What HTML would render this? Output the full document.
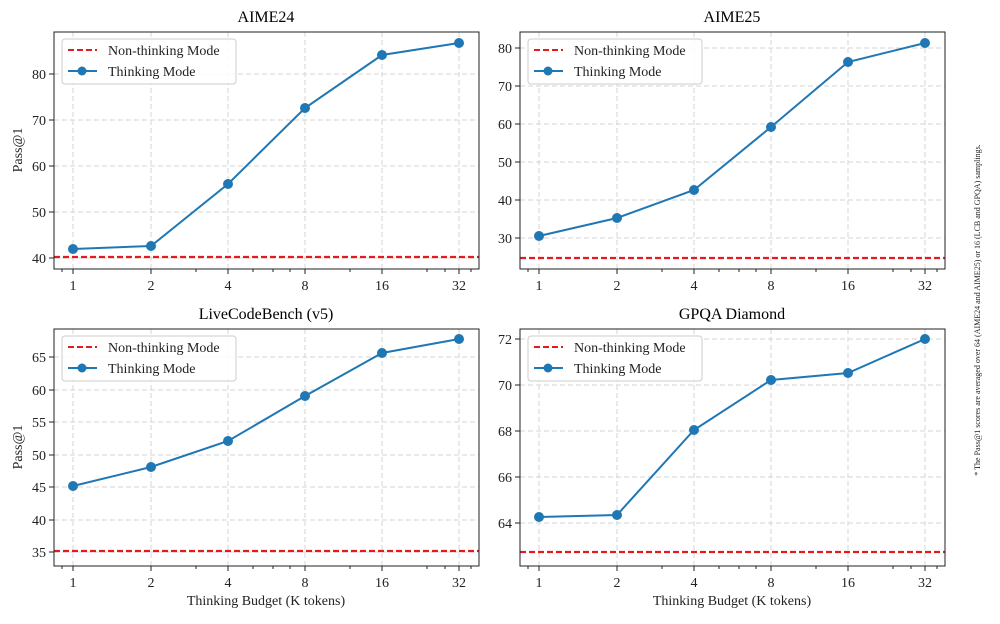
<!DOCTYPE html>
<html><head><meta charset="utf-8"><style>
body{margin:0;background:#fff;}
svg{font-family:"Liberation Serif","DejaVu Serif",serif;}
.g{stroke:#d6d6d6;stroke-width:1;stroke-dasharray:5,3;fill:none}
.t{font-size:14px;fill:#222}
</style></head><body>
<svg width="1000" height="619" viewBox="0 0 1000 619" xmlns="http://www.w3.org/2000/svg">
<defs>
<g id="xgrid">
<line class="g" x1="19" y1="0" x2="19" y2="237"/><line class="g" x1="97" y1="0" x2="97" y2="237"/><line class="g" x1="174" y1="0" x2="174" y2="237"/><line class="g" x1="251" y1="0" x2="251" y2="237"/><line class="g" x1="328" y1="0" x2="328" y2="237"/><line class="g" x1="405" y1="0" x2="405" y2="237"/>
<g stroke="#222" stroke-width="1">
<line x1="19" y1="237" x2="19" y2="242"/><line x1="97" y1="237" x2="97" y2="242"/><line x1="174" y1="237" x2="174" y2="242"/><line x1="251" y1="237" x2="251" y2="242"/><line x1="328" y1="237" x2="328" y2="242"/><line x1="405" y1="237" x2="405" y2="242"/>
<line x1="8" y1="237" x2="8" y2="240"/><line x1="142" y1="237" x2="142" y2="240"/><line x1="199" y1="237" x2="199" y2="240"/><line x1="219" y1="237" x2="219" y2="240"/><line x1="236" y1="237" x2="236" y2="240"/><line x1="296" y1="237" x2="296" y2="240"/><line x1="373" y1="237" x2="373" y2="240"/><line x1="391" y1="237" x2="391" y2="240"/><line x1="417" y1="237" x2="417" y2="240"/>
</g>
<g class="t" text-anchor="middle">
<text x="19" y="258">1</text><text x="97" y="258">2</text><text x="174" y="258">4</text><text x="251" y="258">8</text><text x="328" y="258">16</text><text x="405" y="258">32</text></g>
</g>
<g id="legend">
<rect x="8" y="7" width="174" height="45" rx="3" fill="#fff" fill-opacity="0.85" stroke="#ccc"/>
<line x1="14" y1="18" x2="43" y2="18" stroke="#e41a1c" stroke-width="2" stroke-dasharray="6,3"/>
<line x1="14" y1="39" x2="43" y2="39" stroke="#1f77b4" stroke-width="2"/><circle cx="28" cy="39" r="4.5" fill="#1f77b4"/>
<text class="t" x="54" y="23">Non-thinking Mode</text><text class="t" x="54" y="44">Thinking Mode</text>
</g>
</defs>

<g transform="translate(54,32)">
<text x="212" y="-10" text-anchor="middle" font-size="16">AIME24</text>
<use href="#xgrid"/>
<g class="g"><line x1="0" y1="42" x2="425" y2="42"/><line x1="0" y1="88" x2="425" y2="88"/><line x1="0" y1="134" x2="425" y2="134"/><line x1="0" y1="180" x2="425" y2="180"/><line x1="0" y1="226" x2="425" y2="226"/></g>
<g stroke="#222"><line x1="-5" y1="42" x2="0" y2="42"/><line x1="-5" y1="88" x2="0" y2="88"/><line x1="-5" y1="134" x2="0" y2="134"/><line x1="-5" y1="180" x2="0" y2="180"/><line x1="-5" y1="226" x2="0" y2="226"/></g>
<g class="t" text-anchor="end"><text x="-8" y="47">80</text><text x="-8" y="93">70</text><text x="-8" y="139">60</text><text x="-8" y="185">50</text><text x="-8" y="231">40</text></g>
<line x1="0" y1="225" x2="425" y2="225" stroke="#e41a1c" stroke-width="2.2" stroke-dasharray="6,3"/>
<polyline points="19,217 97,214 174,152 251,76 328,23 405,11" fill="none" stroke="#1f77b4" stroke-width="2"/>
<g fill="#1f77b4"><circle cx="19" cy="217" r="5"/><circle cx="97" cy="214" r="5"/><circle cx="174" cy="152" r="5"/><circle cx="251" cy="76" r="5"/><circle cx="328" cy="23" r="5"/><circle cx="405" cy="11" r="5"/></g>
<use href="#legend"/>
<rect x="0" y="0" width="425" height="237" fill="none" stroke="#222"/>
<text x="-32" y="118" transform="rotate(-90 -32 118)" text-anchor="middle" class="t">Pass@1</text>
</g>

<g transform="translate(520,32)">
<text x="212" y="-10" text-anchor="middle" font-size="16">AIME25</text>
<use href="#xgrid"/>
<g class="g"><line x1="0" y1="16" x2="425" y2="16"/><line x1="0" y1="54" x2="425" y2="54"/><line x1="0" y1="92" x2="425" y2="92"/><line x1="0" y1="130" x2="425" y2="130"/><line x1="0" y1="168" x2="425" y2="168"/><line x1="0" y1="206" x2="425" y2="206"/></g>
<g stroke="#222"><line x1="-5" y1="16" x2="0" y2="16"/><line x1="-5" y1="54" x2="0" y2="54"/><line x1="-5" y1="92" x2="0" y2="92"/><line x1="-5" y1="130" x2="0" y2="130"/><line x1="-5" y1="168" x2="0" y2="168"/><line x1="-5" y1="206" x2="0" y2="206"/></g>
<g class="t" text-anchor="end"><text x="-8" y="21">80</text><text x="-8" y="59">70</text><text x="-8" y="97">60</text><text x="-8" y="135">50</text><text x="-8" y="173">40</text><text x="-8" y="211">30</text></g>
<line x1="0" y1="226" x2="425" y2="226" stroke="#e41a1c" stroke-width="2.2" stroke-dasharray="6,3"/>
<polyline points="19,204 97,186 174,158 251,95 328,30 405,11" fill="none" stroke="#1f77b4" stroke-width="2"/>
<g fill="#1f77b4"><circle cx="19" cy="204" r="5"/><circle cx="97" cy="186" r="5"/><circle cx="174" cy="158" r="5"/><circle cx="251" cy="95" r="5"/><circle cx="328" cy="30" r="5"/><circle cx="405" cy="11" r="5"/></g>
<use href="#legend"/>
<rect x="0" y="0" width="425" height="237" fill="none" stroke="#222"/>
</g>

<g transform="translate(54,329)">
<text x="212" y="-10" text-anchor="middle" font-size="16">LiveCodeBench (v5)</text>
<use href="#xgrid"/>
<g class="g"><line x1="0" y1="28" x2="425" y2="28"/><line x1="0" y1="61" x2="425" y2="61"/><line x1="0" y1="93" x2="425" y2="93"/><line x1="0" y1="126" x2="425" y2="126"/><line x1="0" y1="158" x2="425" y2="158"/><line x1="0" y1="191" x2="425" y2="191"/><line x1="0" y1="223" x2="425" y2="223"/></g>
<g stroke="#222"><line x1="-5" y1="28" x2="0" y2="28"/><line x1="-5" y1="61" x2="0" y2="61"/><line x1="-5" y1="93" x2="0" y2="93"/><line x1="-5" y1="126" x2="0" y2="126"/><line x1="-5" y1="158" x2="0" y2="158"/><line x1="-5" y1="191" x2="0" y2="191"/><line x1="-5" y1="223" x2="0" y2="223"/></g>
<g class="t" text-anchor="end"><text x="-8" y="33">65</text><text x="-8" y="66">60</text><text x="-8" y="98">55</text><text x="-8" y="131">50</text><text x="-8" y="163">45</text><text x="-8" y="196">40</text><text x="-8" y="228">35</text></g>
<line x1="0" y1="222" x2="425" y2="222" stroke="#e41a1c" stroke-width="2.2" stroke-dasharray="6,3"/>
<polyline points="19,157 97,138 174,112 251,67 328,24 405,10" fill="none" stroke="#1f77b4" stroke-width="2"/>
<g fill="#1f77b4"><circle cx="19" cy="157" r="5"/><circle cx="97" cy="138" r="5"/><circle cx="174" cy="112" r="5"/><circle cx="251" cy="67" r="5"/><circle cx="328" cy="24" r="5"/><circle cx="405" cy="10" r="5"/></g>
<use href="#legend"/>
<rect x="0" y="0" width="425" height="237" fill="none" stroke="#222"/>
<text x="-32" y="118" transform="rotate(-90 -32 118)" text-anchor="middle" class="t">Pass@1</text>
<text x="212" y="276" text-anchor="middle" class="t">Thinking Budget (K tokens)</text>
</g>

<g transform="translate(520,329)">
<text x="212" y="-10" text-anchor="middle" font-size="16">GPQA Diamond</text>
<use href="#xgrid"/>
<g class="g"><line x1="0" y1="10" x2="425" y2="10"/><line x1="0" y1="56" x2="425" y2="56"/><line x1="0" y1="102" x2="425" y2="102"/><line x1="0" y1="148" x2="425" y2="148"/><line x1="0" y1="194" x2="425" y2="194"/></g>
<g stroke="#222"><line x1="-5" y1="10" x2="0" y2="10"/><line x1="-5" y1="56" x2="0" y2="56"/><line x1="-5" y1="102" x2="0" y2="102"/><line x1="-5" y1="148" x2="0" y2="148"/><line x1="-5" y1="194" x2="0" y2="194"/></g>
<g class="t" text-anchor="end"><text x="-8" y="15">72</text><text x="-8" y="61">70</text><text x="-8" y="107">68</text><text x="-8" y="153">66</text><text x="-8" y="199">64</text></g>
<line x1="0" y1="223" x2="425" y2="223" stroke="#e41a1c" stroke-width="2.2" stroke-dasharray="6,3"/>
<polyline points="19,188 97,186 174,101 251,51 328,44 405,10" fill="none" stroke="#1f77b4" stroke-width="2"/>
<g fill="#1f77b4"><circle cx="19" cy="188" r="5"/><circle cx="97" cy="186" r="5"/><circle cx="174" cy="101" r="5"/><circle cx="251" cy="51" r="5"/><circle cx="328" cy="44" r="5"/><circle cx="405" cy="10" r="5"/></g>
<use href="#legend"/>
<rect x="0" y="0" width="425" height="237" fill="none" stroke="#222"/>
<text x="212" y="276" text-anchor="middle" class="t">Thinking Budget (K tokens)</text>
</g>

<text x="980" y="310" transform="rotate(-90 980 310)" text-anchor="middle" font-size="8" fill="#222">* The Pass@1 scores are averaged over 64 (AIME24 and AIME25) or 16 (LCB and GPQA) samplings.</text>
</svg>
</body></html>
